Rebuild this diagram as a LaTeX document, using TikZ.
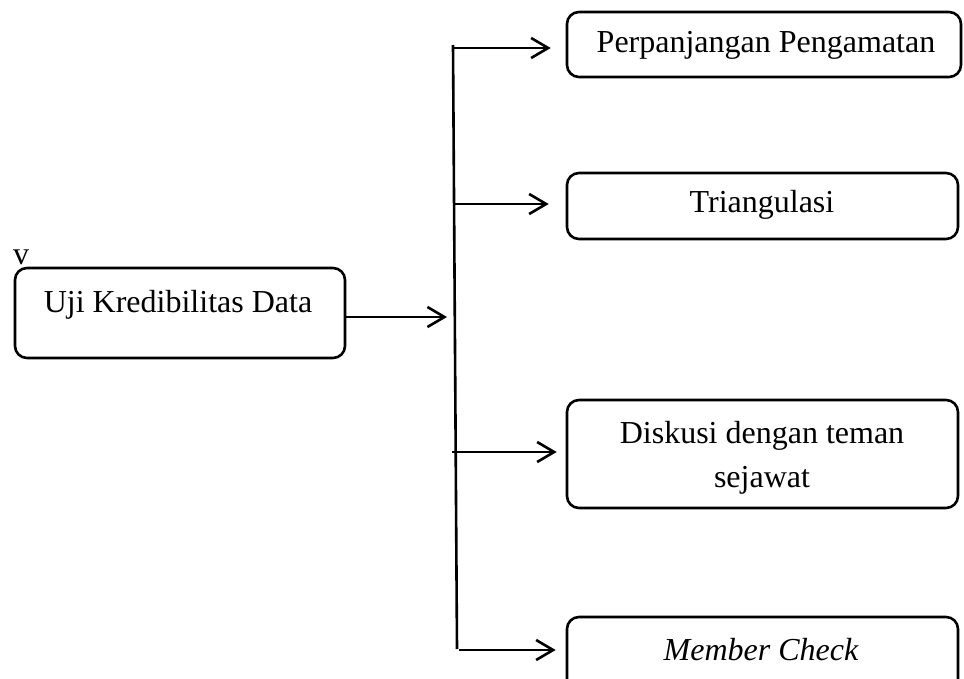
\documentclass[tikz,border=0pt]{standalone}
\usepackage{fontspec}
\setmainfont{Liberation Serif}
\usetikzlibrary{arrows.meta}
\begin{document}
\begin{tikzpicture}[x=1pt,y=-1pt,
  line width=2.6pt,
  rbox/.style={draw, line width=2.6pt, rounded corners=12pt, inner sep=0pt},
  lbl/.style={anchor=base, inner sep=0pt, font=\fontsize{32}{44}\selectfont},
  arr/.style={-{Straight Barb[length=17pt,width=20pt]}, line width=2.6pt}
]
\clip (0,0) rectangle (964,679);
\useasboundingbox (0,0) rectangle (964,679);

% boxes
\node[rbox, minimum width=330pt, minimum height=90pt] (main) at (180,313) {};
\node[rbox, minimum width=394pt, minimum height=65pt] (p1) at (764,44.5) {};
\node[rbox, minimum width=391pt, minimum height=66pt] (p2) at (762.5,206) {};
\node[rbox, minimum width=391pt, minimum height=108pt] (p3) at (762.5,454) {};
\node[rbox, minimum width=391pt, minimum height=83pt] (p4) at (762.5,658.5) {};

% texts
\node[lbl] (v) at (21,265) {v};
\node[lbl] (tmain) at (178,312) {Uji Kredibilitas Data};
\node[lbl] (t1) at (766,53) {Perpanjangan Pengamatan};
\node[lbl] (t2) at (762,213) {Triangulasi};
\node[lbl] (t3a) at (762,443) {Diskusi dengan teman};
\node[lbl] (t3b) at (762,487) {sejawat};
\node[lbl] (t4) at (761,660) {\itshape Member Check};

% vertical bus
\coordinate (vt) at (453,45);
\coordinate (vb) at (457,649);
\draw (vt) -- (vb);

% main arrow
\coordinate (mj) at (447,317);
\draw[arr] (main.east |- mj) -- (mj);

% branch arrows
\coordinate (c1) at (453,48);
\coordinate (c2) at (454,204);
\coordinate (c3) at (452,452);
\coordinate (c4) at (459,650);
\draw[arr, shorten >=15pt] (c1) -- (c1 -| p1.west);
\draw[arr, shorten >=17pt] (c2) -- (c2 -| p2.west);
\draw[arr, shorten >=9pt] (c3) -- (c3 -| p3.west);
\draw[arr, shorten >=10pt] (c4) -- (c4 -| p4.west);
\end{tikzpicture}
\end{document}
